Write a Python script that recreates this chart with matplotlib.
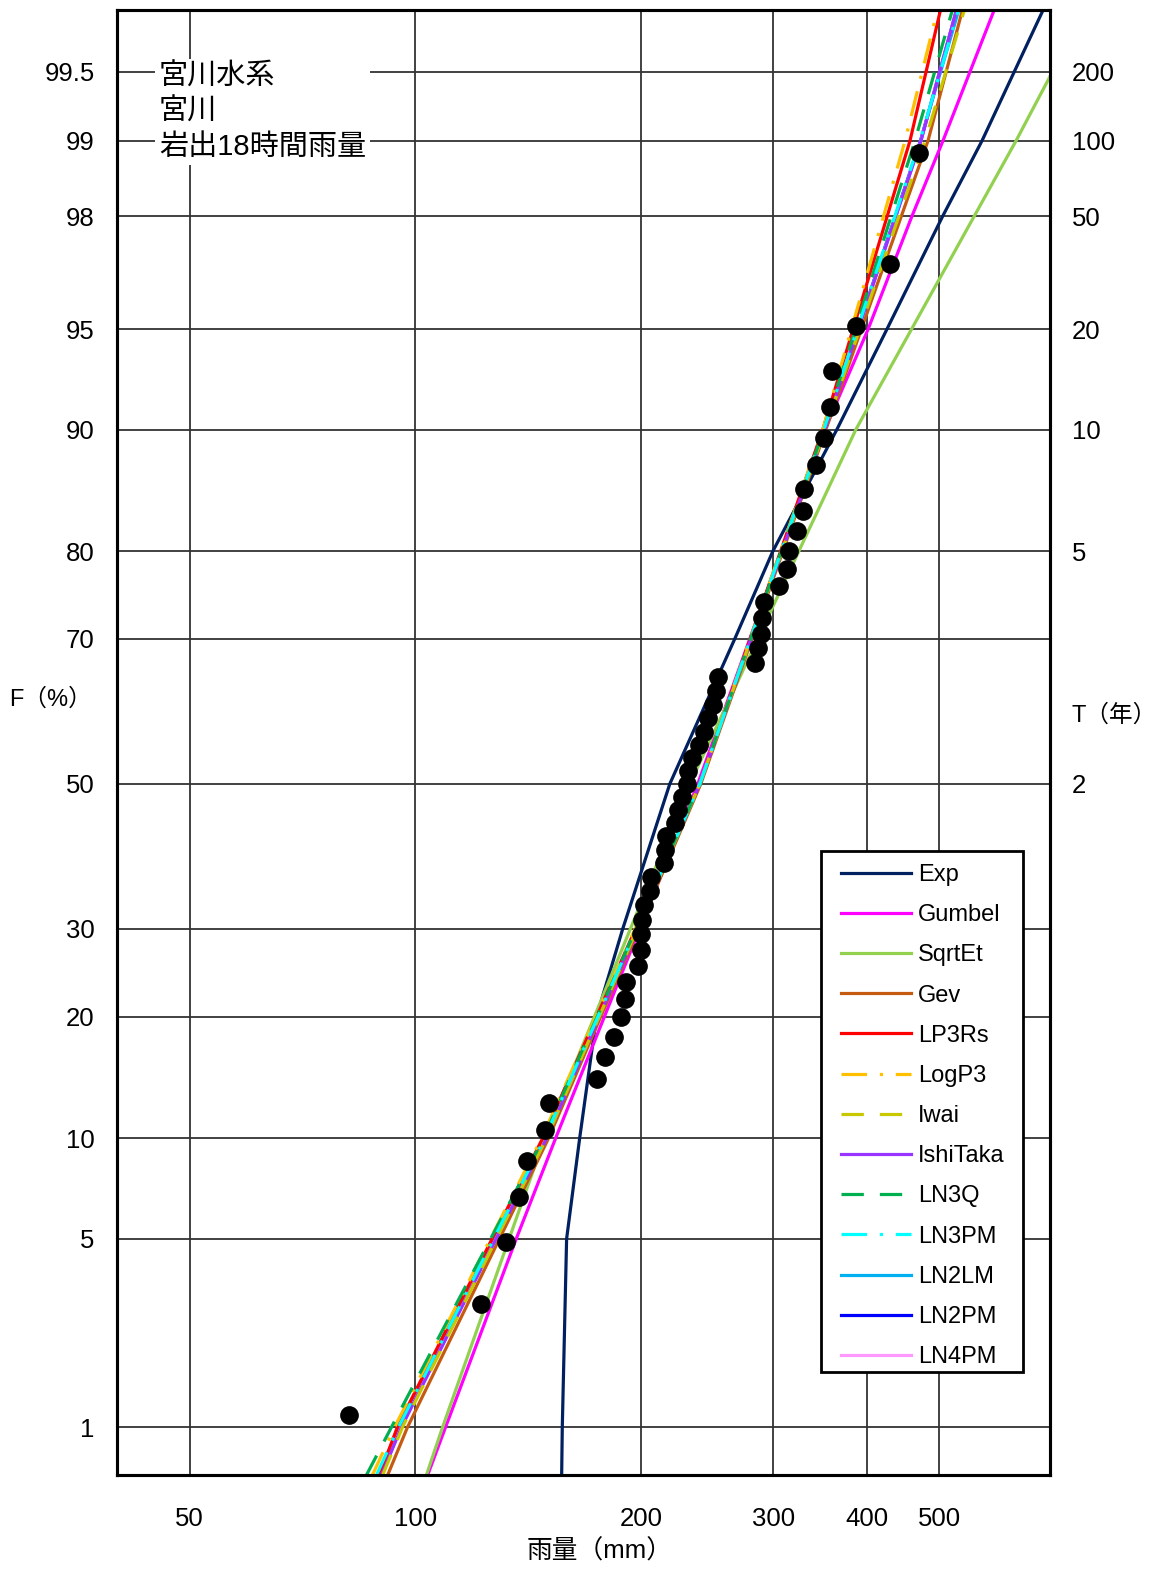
from statistics import NormalDist
import numpy as np
import matplotlib
matplotlib.use('Agg')
import matplotlib.pyplot as plt
from matplotlib.ticker import NullLocator
from matplotlib.patches import Rectangle

plt.rcParams['font.family'] = ['Liberation Sans', 'Noto Sans CJK JP', 'DejaVu Sans']

# observed rainfall (mm), sorted ascending
rain = [81.6, 122.5, 131.9, 137.3, 140.7, 149.1, 150.5, 174.4, 178.8, 183.8,
        187.8, 190.1, 190.8, 197.9, 199.7, 199.7, 200.3, 201.6, 205.3, 206.0,
        214.4, 215.0, 215.7, 221.7, 223.8, 226.5, 230.0, 230.7, 233.6, 238.7,
        242.4, 245.4, 249.2, 251.5, 253.1, 283.6, 286.2, 288.9, 289.7, 291.5,
        305.3, 312.9, 314.8, 322.6, 328.6, 329.6, 342.0, 350.5, 357.1, 359.3,
        386.8, 429.5, 469.6]

# fitted curves: rainfall at non-exceedance probability F (%)
fit_F = [0.62, 1, 10, 50, 90, 99, 99.75]
gev = [91.8, 97.6, 150.5, 240.2, 352.7, 482.7, 537.4]
lp3rs = [89.5, 94.6, 147.8, 239.5, 349.4, 456.7, 502.3]
logp3 = [87.6, 93.8, 147.3, 239.5, 349.4, 449.8, 497.7]
iwai = [90.4, 96.1, 149.6, 239.5, 351.6, 478.3, 540.8]
ishitaka = [90.1, 95.8, 149.6, 239.5, 351.6, 472.4, 527.6]
ln3q = [86.0, 92.9, 148.2, 239.5, 350.5, 463.7, 521.2]
ln3pm = [88.7, 94.9, 148.7, 239.5, 350.5, 470.9, 530.9]
ln2lm = [89.0, 95.2, 148.9, 239.5, 350.8, 471.5, 531.5]
ln2pm = [89.8, 95.6, 149.3, 239.5, 351.2, 472.0, 528.0]
ln4pm = [90.0, 95.7, 149.4, 239.5, 351.4, 472.2, 527.8]
sqrtet = [103.4, 108.7, 148.7, 232.2, 386.7, 632.6, 784.5]

gumbel_F = [0.62, 1, 5, 10, 50, 90, 95, 98, 99, 99.75]
gumbel = [103.8, 109.7, 136.3, 153.8, 238.0, 351.6, 401.6, 459.5, 505.4, 593.0]

exp_F = [0.62, 1, 5, 10, 20, 30, 50, 70, 80, 90, 95, 98, 99, 99.75]
exp_ = [156.7, 157.0, 159.1, 165.6, 174.4, 189.0, 218.4, 266.6, 299.7, 364.8,
        425.5, 505.0, 569.8, 689.5]

F_ticks = [1, 5, 10, 20, 30, 50, 70, 80, 90, 95, 98, 99, 99.5]
F_labels = ['1', '5', '10', '20', '30', '50', '70', '80', '90', '95', '98', '99', '99.5']
T_years = [2, 5, 10, 20, 50, 100, 200]
x_ticks = [50, 100, 200, 300, 400, 500]

nd = NormalDist()
_ppf = np.vectorize(nd.inv_cdf, otypes=[float])
_cdf = np.vectorize(nd.cdf, otypes=[float])


def fwd(p):
    p = np.clip(np.asarray(p, dtype=float) / 100.0, 1e-9, 1 - 1e-9)
    return _ppf(p)


def inv(z):
    return _cdf(np.asarray(z, dtype=float)) * 100.0


W, H = 1161, 1570
fig = plt.figure(figsize=(W / 100, H / 100), dpi=100)
ax = fig.add_axes([117 / W, 1 - 1475 / H, 933 / W, 1465 / H])
ax.set_xscale('log')
ax.set_yscale('function', functions=(fwd, inv))

series = [
    ('Exp', exp_F, exp_, '#002060', '-', 3),
    ('Gumbel', gumbel_F, gumbel, '#ff00ff', '-', 3),
    ('SqrtEt', fit_F, sqrtet, '#92d050', '-', 3),
    ('Gev', fit_F, gev, '#c55a11', '-', 3),
    ('LP3Rs', fit_F, lp3rs, '#ff0000', '-', 3),
    ('LogP3', fit_F, logp3, '#ffc000', (0, (8, 4, 1, 4)), 3.4),
    ('Iwai', fit_F, iwai, '#c8c800', (0, (7, 5)), 3.3),
    ('IshiTaka', fit_F, ishitaka, '#9933ff', '-', 3),
    ('LN3Q', fit_F, ln3q, '#00b050', (0, (7, 5)), 3.5),
    ('LN3PM', fit_F, ln3pm, '#00ffff', (0, (8, 4, 1, 4)), 3.6),
    ('LN2LM', fit_F, ln2lm, '#00b0f0', '-', 2),
    ('LN2PM', fit_F, ln2pm, '#0000ff', '-', 2),
    ('LN4PM', fit_F, ln4pm, '#ff99ff', '-', 2),
]
for name, F, vals, color, ls, z in series:
    ax.plot(vals, F, color=color, linestyle=ls, linewidth=2.3, label=name, zorder=z)

# Cunnane plotting positions
n = len(rain)
pp = [(i + 1 - 0.4) / (n + 0.2) * 100 for i in range(n)]
ax.scatter(rain, pp, s=155, color='black', zorder=5, label='_nolegend_')

ax.set_xlim(40, 702)
ax.set_ylim(inv(-2.499), inv(2.799))
ax.set_xticks(x_ticks)
ax.set_xticklabels([str(v) for v in x_ticks])
ax.xaxis.set_minor_locator(NullLocator())
ax.set_yticks(F_ticks)
ax.set_yticklabels(F_labels)
ax.yaxis.set_minor_locator(NullLocator())
ax.grid(True, color='#333333', linewidth=1.3, zorder=0)
ax.set_axisbelow(True)
ax.tick_params(axis='y', length=0, pad=16, labelsize=18.5)
ax.tick_params(axis='x', length=0, pad=23, labelsize=18.5)
for s in ax.spines.values():
    s.set_linewidth(2.2)

ax2 = ax.twinx()
ax2.set_yscale('function', functions=(fwd, inv))
ax2.set_ylim(ax.get_ylim())
ax2.set_yticks([100 * (1 - 1 / t) for t in T_years])
ax2.set_yticklabels([str(t) for t in T_years])
ax2.yaxis.set_minor_locator(NullLocator())
ax2.tick_params(axis='y', length=0, pad=16, labelsize=18.5)
for s in ax2.spines.values():
    s.set_linewidth(2.2)

ax.text((159 - 117) / 933, (1475 - 63) / 1465,
        '宮川水系\n宮川\n岩出18時間雨量', transform=ax.transAxes,
        fontsize=21, va='top', ha='left', linespacing=1.32, zorder=6,
        bbox=dict(facecolor='white', edgecolor='none', pad=3))

fig.text(9 / W, 1 - 700 / H, 'F（%）', fontsize=17, ha='left', va='center')
fig.text(1072 / W, 1 - 715 / H, 'T（年）', fontsize=17, ha='left', va='center')
fig.text(600 / W, 1 - 1551 / H, '雨量（mm）', fontsize=18.5, ha='center', va='center')

# legend frame drawn separately so its padding matches
ax.add_patch(Rectangle((821 / W, 1 - 1372 / H), 202 / W, 521 / H,
                       transform=fig.transFigure, facecolor='white',
                       edgecolor='black', linewidth=2, zorder=9, clip_on=False))
leg = ax.legend(loc='upper left', bbox_to_anchor=(841 / W, 1 - 864 / H),
                bbox_transform=fig.transFigure, borderaxespad=0, borderpad=0,
                fontsize=17, handlelength=2.95, handletextpad=0.3,
                labelspacing=0.77, frameon=False)
leg.set_zorder(10)

fig.savefig('out.png', dpi=100)
